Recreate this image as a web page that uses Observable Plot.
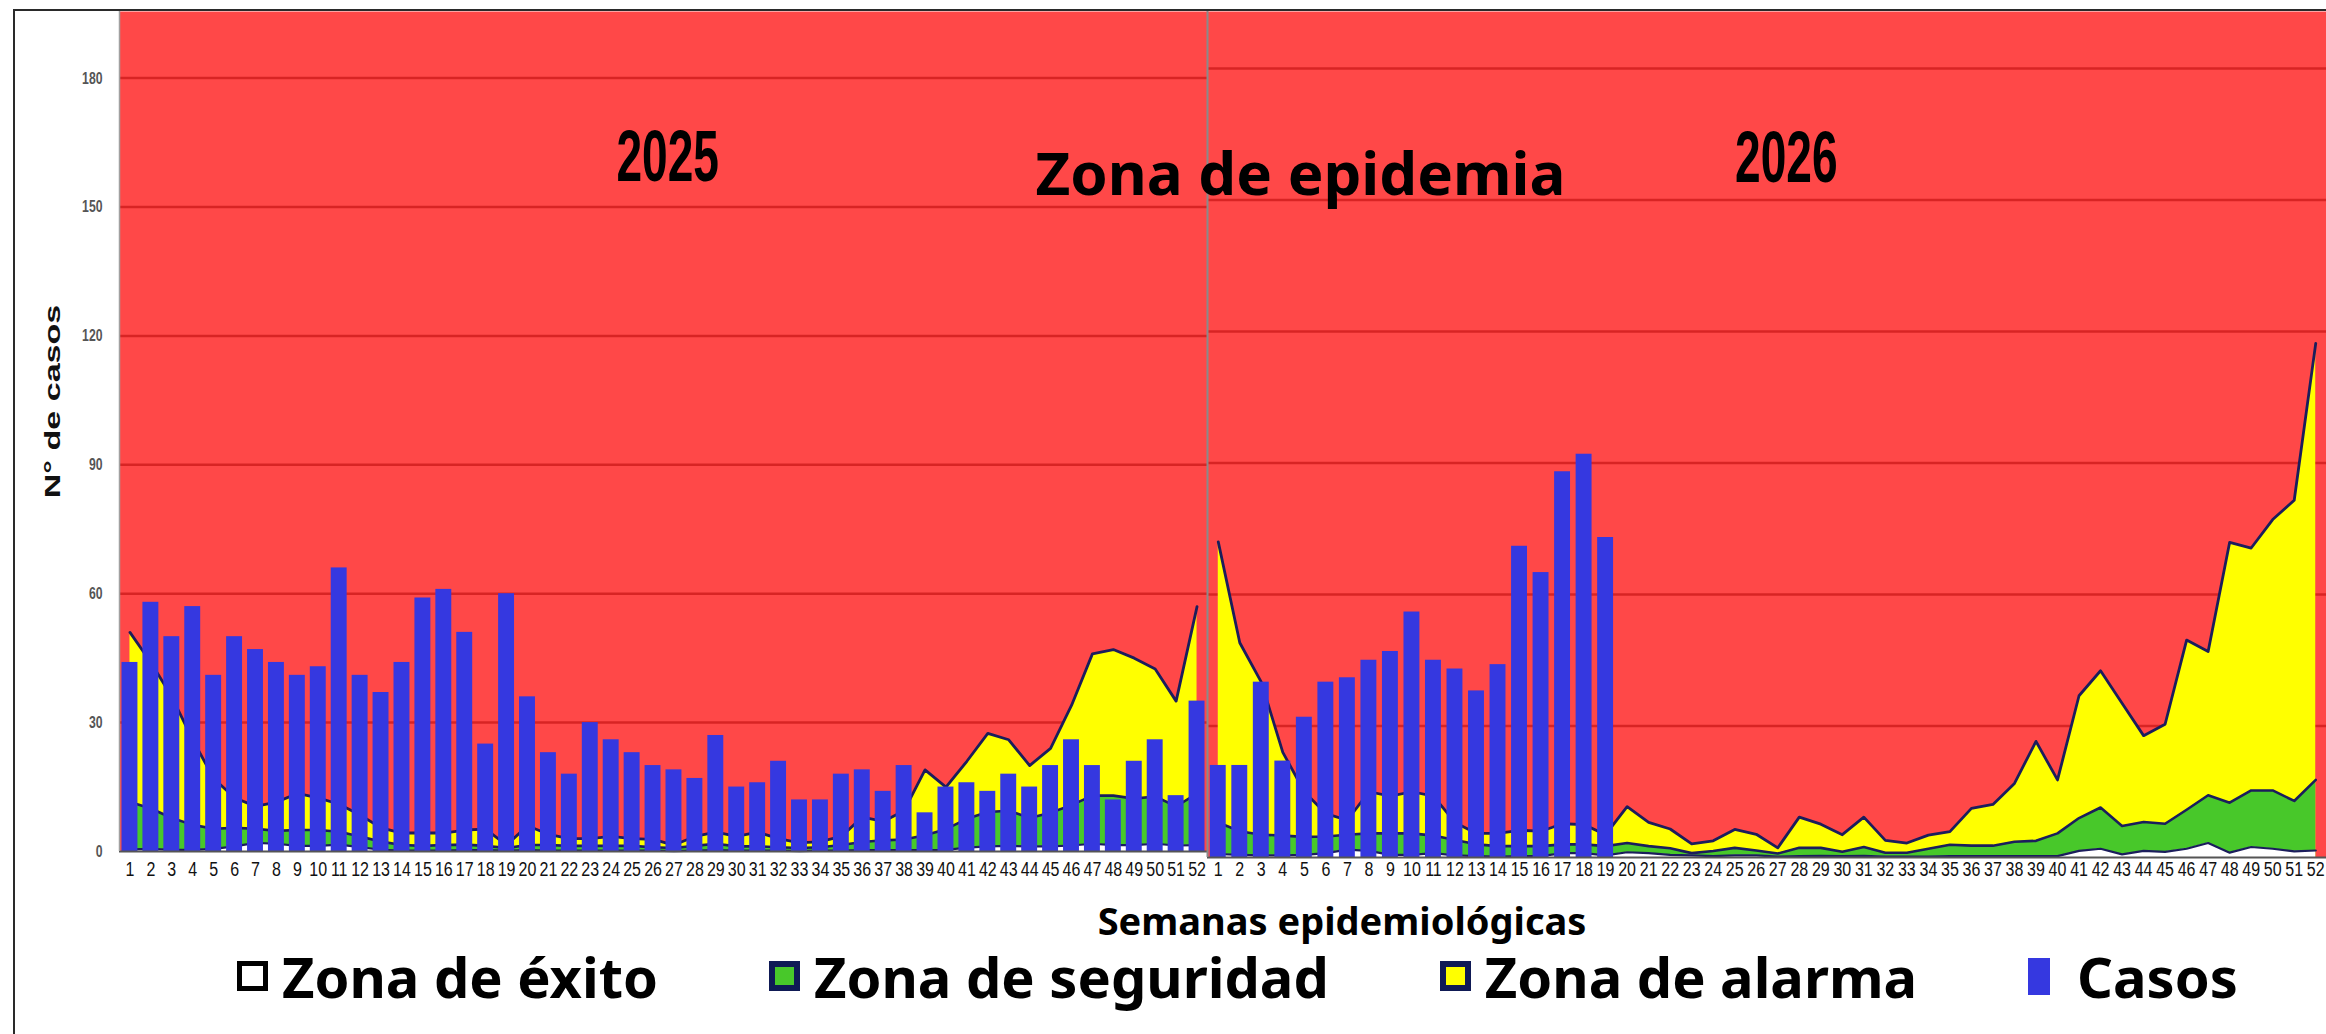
<!DOCTYPE html>
<html>
<head>
<meta charset="utf-8">
<script src="https://cdn.jsdelivr.net/npm/d3@7"></script>
<script src="https://cdn.jsdelivr.net/npm/@observablehq/plot@0.6"></script>
<style>
  html, body { margin: 0; padding: 0; background: #fff; }
  #page { position: relative; width: 2326px; height: 1034px; overflow: hidden; background: #fff; }
  #frameBorder { position: absolute; left: 13px; top: 9px; width: 2400px; height: 1100px;
    border-left: 2px solid #2a2a2a; border-top: 2px solid #2a2a2a; box-sizing: border-box; }
  #leftChart { position: absolute; left: 0; top: 0; }
  #rightChart { position: absolute; left: 1207px; top: 0; }
  #xTitle { position: absolute; left: 1042px; width: 600px; top: 901px; text-align: center;
    font: 700 38px/1 "Noto Sans", "Open Sans", sans-serif; color: #000; white-space: nowrap; }
  #xTitle span { display: inline-block; height: 38px; line-height: 38px; }
  #legend { position: absolute; left: 237px; top: 948px; display: flex; align-items: center; gap: 111px;
    font: 700 56px/1 "Noto Sans", "Open Sans", sans-serif; color: #000; white-space: nowrap; }
  .item { display: flex; align-items: center; }
  .item span { display: inline-block; height: 56px; line-height: 56px; }
  .sw { box-sizing: border-box; width: 31px; height: 30px; margin-right: 14px; }
  .sw.casos { width: 22px; height: 37px; margin-right: 27px; }
</style>
</head>
<body>
<div id="page">
  <div id="frameBorder"></div>
  <div id="leftChart"></div>
  <div id="rightChart"></div>
  <div id="xTitle"></div>
  <div id="legend"></div>
</div>
<script>
// ---------------- data ----------------
const weeks = [1,2,3,4,5,6,7,8,9,10,11,12,13,14,15,16,17,18,19,20,21,22,23,24,25,26,
               27,28,29,30,31,32,33,34,35,36,37,38,39,40,41,42,43,44,45,46,47,48,49,50,51,52];

const casos2025 = [44,58,50,57,41,50,47,44,41,43,66,41,37,44,59,61,51,25,60,36,23,18,30,26,23,20,
                   19,17,27,15,16,21,12,12,18,19,14,20,9,15,16,14,18,15,20,26,20,12,21,26,13,35];
const alarma2025 = [51,44,36,26,17,12.5,10.5,11.5,13.5,12.5,11,8.5,5.5,4.3,4.3,4.3,5,5.2,1.5,6,
                    4,3,3,3.5,3,2.8,1.5,3.5,4.5,3.5,4.5,3,2,2.3,3.5,8,7,9.5,19,15,
                    21,27.5,26,20,24,34,46,47,45,42.5,35,57];
const seguridad2025 = [11.5,10,7.8,6.2,5.3,5.5,5.3,4.8,5,5,4.6,3.5,2.3,1.5,1.3,1.5,1.6,1.3,0.8,1.5,
                       1.5,1.3,1.3,1.3,1.3,1,0.8,1.3,1.8,1.2,1.2,1,0.8,1,1.5,2.2,2.6,2.8,3.8,5.2,
                       7.6,9.2,9.5,7.8,9,10.8,13,13,12.3,12.8,10.5,13.5];
const exito2025 = [0.5,0.6,0.4,0.4,0.6,1.2,2,1.8,1.3,1.3,1.6,1,0.4,0.2,0.2,0.2,0.3,0.3,0.2,0.3,
                   0.2,0.2,0.2,0.2,0.2,0.2,0.1,0.2,0.3,0.2,0.2,0.2,0.1,0.2,0.2,0.3,0.3,0.3,0.3,0.4,
                   0.9,1.2,1.3,1.2,1.2,1.4,1.8,1.5,1.5,1.8,1.4,1.5];

const casos2026 = [21,21,40,22,32,40,41,45,47,56,45,43,38,44,71,65,88,92,73,
                   null,null,null,null,null,null,null,null,null,null,null,null,null,null,null,null,null,
                   null,null,null,null,null,null,null,null,null,null,null,null,null,null,null,null];
const alarma2026 = [72,49,40,24,15,10,8.5,15,14,15,14,8,5.5,5.5,6.2,6,7.7,7.5,5.2,11.6,
                    8,6.5,3.1,3.8,6.4,5.3,2.2,9.2,7.6,5.2,9.2,3.9,3.3,5.1,5.9,11.2,12.1,16.9,26.5,17.7,
                    36.9,42.6,35.2,27.8,30.4,49.6,47,71.9,70.6,77.1,81.5,117.3];
const seguridad2026 = [8,6,5.2,5,4.7,4.8,5.2,5.5,5.5,5.5,5,4,3,2.6,2.6,2.6,3,3,2.6,3.3,
                       2.6,2.1,1,1.5,2.2,1.6,0.9,2.2,2.2,1.3,2.4,1.1,1.1,2,2.9,2.7,2.7,3.6,3.8,5.5,
                       9,11.4,7.2,8.1,7.7,10.9,14.2,12.5,15.3,15.3,12.9,17.7];
const exito2026 = [0.8,0.6,0.5,0.5,0.6,1,1.8,1.5,0.6,0.6,1,0.5,0.3,0.2,0.3,0.3,1,1,0.5,1.2,
                   1,0.6,0.5,0.3,0.5,0.5,0.2,0.3,0.4,0.3,0.4,0.2,0.2,0.2,0.3,0.3,0.3,0.3,0.3,0.3,
                   1.5,2,0.7,1.5,1.3,2,3.3,1.1,2.4,2,1.4,1.6];

const yTicks = [0,30,60,90,120,150,180];
const gridValues = [30,60,90,120,150,180];
const years = ["2025","2026"];
const zoneTitle = "Zona de epidemia";
const yTitle = "N° de casos";
const xTitle = "Semanas epidemiológicas";
const legendLabels = ["Zona de éxito","Zona de seguridad","Zona de alarma","Casos"];

// ---------------- styles ----------------
const RED = "#ff4848", GRID = "#d82424", YELLOW = "#ffff00", GREEN = "#48c82a",
      NAVY = "#1b1d5c", BLUE = "#3538e0";
const ARIAL = "'Liberation Sans', Arial, sans-serif";
const SANS = "'Noto Sans', 'Open Sans', sans-serif";

function rowsOf(casos, alarma, seguridad, exito) {
  return weeks.map((w, i) => ({week: w, casos: casos[i], alarma: alarma[i], seguridad: seguridad[i], exito: exito[i]}));
}
const rows2025 = rowsOf(casos2025, alarma2025, seguridad2025, exito2025);
const rows2026 = rowsOf(casos2026, alarma2026, seguridad2026, exito2026);
const xDomain = [0.5, 52.5];

function zoneMarks(rows, inset, labelDy) {
  return [
    Plot.frame({fill: RED, stroke: "none"}),
    Plot.ruleY(gridValues, {stroke: GRID, strokeWidth: 2.5}),
    Plot.areaY(rows, {x: "week", y: "alarma", fill: YELLOW}),
    Plot.lineY(rows, {x: "week", y: "alarma", stroke: NAVY, strokeWidth: 2.8, strokeLinejoin: "round"}),
    Plot.areaY(rows, {x: "week", y: "seguridad", fill: GREEN}),
    Plot.lineY(rows, {x: "week", y: "seguridad", stroke: NAVY, strokeWidth: 2.6, strokeLinejoin: "round"}),
    Plot.areaY(rows, {x: "week", y: "exito", fill: "#ffffff"}),
    Plot.lineY(rows, {x: "week", y: "exito", stroke: NAVY, strokeWidth: 2.2, strokeLinejoin: "round"}),
    Plot.rectY(rows.filter(d => d.casos != null), {
      x1: d => d.week - 0.5, x2: d => d.week + 0.5, y: "casos", fill: BLUE,
      insetLeft: inset, insetRight: inset
    }),
    Plot.ruleY([0], {stroke: "#555", strokeWidth: 2}),
    Plot.text(weeks, {x: d => d, text: d => String(d), frameAnchor: "bottom", dy: labelDy,
      fontSize: 20, fontFamily: ARIAL, fill: "#111", ariaDescription: "weeklabels"})
  ];
}

function stretch(svg, label, sx, sy) {
  svg.querySelectorAll(`g[aria-description="${label}"] text`).forEach(t => {
    const tr = t.getAttribute("transform");
    if (tr) t.setAttribute("transform", `${tr} scale(${sx},${sy})`);
    else {
      const x = +t.getAttribute("x") || 0, y = +t.getAttribute("y") || 0;
      t.removeAttribute("x"); t.removeAttribute("y");
      t.setAttribute("transform", `translate(${x},${y}) scale(${sx},${sy})`);
    }
  });
}

// ---------------- left panel (2025) ----------------
const left = Plot.plot({
  width: 1207, height: 900,
  marginLeft: 119, marginRight: 0, marginTop: 11, marginBottom: 49,
  x: {type: "linear", domain: xDomain, axis: null},
  y: {domain: [0, 195.5], axis: null},
  style: {overflow: "visible", background: "transparent"},
  marks: [
    ...zoneMarks(rows2025, 2.5, 24),
    Plot.ruleX([xDomain[0]], {stroke: "#a0a0a0", strokeWidth: 1.5}),
    Plot.text(yTicks, {y: d => d, text: d => String(d), frameAnchor: "left", textAnchor: "end", dx: -17,
      fontSize: 17, fontWeight: "bold", fontFamily: ARIAL, fill: "#555", ariaDescription: "yticklabels"}),
    Plot.text([yTitle], {frameAnchor: "left", textAnchor: "middle", dx: -67, dy: -30, rotate: -90,
      fontSize: 22, fontWeight: "bold", fontFamily: ARIAL, fill: "#111", ariaDescription: "ytitle"}),
    Plot.text([years[0]], {x: () => 26.7, y: () => 161.3, fontSize: 48, fontWeight: "bold",
      fontFamily: ARIAL, fill: "#000", ariaDescription: "yearlabel"})
  ]
});
stretch(left, "weeklabels", 0.8, 1);
stretch(left, "yticklabels", 0.72, 1);
stretch(left, "ytitle", 1.55, 1);
stretch(left, "yearlabel", 0.96, 1.5);
document.getElementById("leftChart").appendChild(left);

// ---------------- right panel (2026) ----------------
const right = Plot.plot({
  width: 1119, height: 900,
  marginLeft: 0, marginRight: 0, marginTop: 11, marginBottom: 43,
  x: {type: "linear", domain: xDomain, axis: null},
  y: {domain: [0, 193.0], axis: null},
  style: {overflow: "visible", background: "transparent"},
  marks: [
    ...zoneMarks(rows2026, 2.8, 18),
    Plot.ruleX([xDomain[0]], {stroke: "#8a8a8a", strokeWidth: 2}),
    Plot.text([years[1]], {x: () => 27.4, y: () => 159.3, fontSize: 48, fontWeight: "bold",
      fontFamily: ARIAL, fill: "#000", ariaDescription: "yearlabel"}),
    Plot.text([zoneTitle], {x: () => 4.82, y: () => 155.6, fontSize: 60, fontWeight: "bold",
      fontFamily: SANS, fill: "#000"})
  ]
});
stretch(right, "weeklabels", 0.8, 1);
stretch(right, "yearlabel", 0.96, 1.5);
document.getElementById("rightChart").appendChild(right);

// ---------------- axis title & legend ----------------
const xt = document.createElement("span");
xt.textContent = xTitle;
document.getElementById("xTitle").appendChild(xt);
const swatchStyles = [
  "background:#fff;border:5px solid #000;",
  `background:${GREEN};border:6px solid #0f1a55;`,
  `background:${YELLOW};border:6px solid #0f1a55;`,
  `background:${BLUE};`
];
const legend = document.getElementById("legend");
legendLabels.forEach((label, i) => {
  const item = document.createElement("div");
  item.className = "item";
  const sw = document.createElement("div");
  sw.className = "sw" + (i === 3 ? " casos" : "");
  sw.style.cssText = swatchStyles[i];
  const tx = document.createElement("span");
  tx.textContent = label;
  item.appendChild(sw); item.appendChild(tx);
  legend.appendChild(item);
});
</script>
</body>
</html>
